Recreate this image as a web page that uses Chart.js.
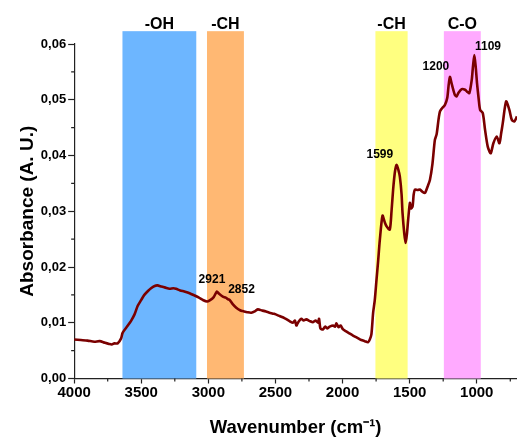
<!DOCTYPE html>
<html>
<head>
<meta charset="utf-8">
<title>FTIR spectrum</title>
<script src="https://cdn.jsdelivr.net/npm/chart.js@4.4.1/dist/chart.umd.min.js"></script>
<style>
  html, body { margin: 0; padding: 0; background: #fff; }
  #wrap { width: 517px; height: 437px; }
</style>
</head>
<body>
<div id="wrap"><canvas id="chart" width="517" height="437"></canvas></div>
<script>
"use strict";

// ── Data ──────────────────────────────────────────────────────────────────────
const wavenumber = [
  4000, 3950, 3900, 3850, 3810, 3770, 3740, 3720, 3700, 3676, 3650, 3639, 3600, 3577, 3550,
  3527, 3500, 3477, 3450, 3427, 3400, 3380, 3350, 3320, 3290, 3260, 3241, 3210, 3179, 3140,
  3104, 3070, 3042, 3010, 2990, 2960, 2937, 2920, 2892, 2870, 2852, 2842, 2820, 2792, 2760,
  2743, 2710, 2680, 2650, 2631, 2600, 2570, 2544, 2510, 2469, 2430, 2395, 2370, 2355, 2344,
  2330, 2307, 2290, 2270, 2245, 2220, 2200, 2183, 2175, 2165, 2146, 2130, 2115, 2096, 2070,
  2056, 2046, 2030, 2015, 1996, 1970, 1950, 1922, 1890, 1860, 1835, 1810, 1797, 1785, 1772,
  1760, 1747, 1735, 1722, 1702, 1685, 1672, 1648, 1635, 1623, 1610, 1598, 1585, 1573, 1560,
  1553, 1540, 1530, 1520, 1511, 1498, 1490, 1478, 1470, 1461, 1440, 1424, 1405, 1386, 1365,
  1349, 1330, 1312, 1299, 1274, 1237, 1220, 1210, 1200, 1188, 1175, 1162, 1150, 1137, 1112,
  1087, 1070, 1055, 1037, 1028, 1018, 1008, 998, 985, 975, 955, 938, 918, 896, 876,
  851, 831, 818, 806, 781, 757, 739, 720, 700
];
const absorbance = [
  0.0070, 0.0069, 0.0068, 0.0066, 0.0067, 0.0064, 0.0062, 0.0061, 0.0063, 0.0063, 0.0072, 0.0082, 0.0095, 0.0103, 0.0115,
  0.0130, 0.0141, 0.0150, 0.0157, 0.0162, 0.0166, 0.0167, 0.0165, 0.0163, 0.0161, 0.0162, 0.0161, 0.0158, 0.0156, 0.0153,
  0.0149, 0.0145, 0.0141, 0.0138, 0.0140, 0.0146, 0.0156, 0.0152, 0.0147, 0.0145, 0.0142, 0.0141, 0.0134, 0.0127, 0.0122,
  0.0121, 0.0119, 0.0118, 0.0121, 0.0124, 0.0122, 0.0120, 0.0118, 0.0116, 0.0112, 0.0108, 0.0103, 0.0100, 0.0104, 0.0095,
  0.0101, 0.0107, 0.0104, 0.0106, 0.0103, 0.0101, 0.0104, 0.0100, 0.0107, 0.0090, 0.0088, 0.0093, 0.0090, 0.0093, 0.0095,
  0.0093, 0.0099, 0.0092, 0.0095, 0.0088, 0.0084, 0.0081, 0.0077, 0.0073, 0.0069, 0.0067, 0.0065, 0.0070, 0.0079, 0.0118,
  0.0140, 0.0177, 0.0210, 0.0249, 0.0292, 0.0280, 0.0273, 0.0267, 0.0300, 0.0339, 0.0370, 0.0383, 0.0375, 0.0362, 0.0330,
  0.0297, 0.0260, 0.0243, 0.0260, 0.0285, 0.0315, 0.0305, 0.0309, 0.0330, 0.0339, 0.0338, 0.0339, 0.0335, 0.0333, 0.0345,
  0.0356, 0.0385, 0.0428, 0.0438, 0.0479, 0.0491, 0.0503, 0.0525, 0.0541, 0.0530, 0.0518, 0.0508, 0.0506, 0.0512, 0.0519,
  0.0518, 0.0514, 0.0512, 0.0536, 0.0560, 0.0580, 0.0560, 0.0530, 0.0500, 0.0482, 0.0476, 0.0446, 0.0416, 0.0404, 0.0422,
  0.0434, 0.0422, 0.0440, 0.0458, 0.0497, 0.0482, 0.0464, 0.0461, 0.0470
];

// Axis ticks (major ones carry a label, the others are short minor marks)
const xTicks = [4000, 3750, 3500, 3250, 3000, 2750, 2500, 2250, 2000, 1750, 1500, 1250, 1000, 750];
const yTicks = [0, 0.005, 0.01, 0.015, 0.02, 0.025, 0.03, 0.035, 0.04, 0.045, 0.05, 0.055, 0.06];

// Functional-group bands
const bandLabels = ["-OH", "-CH", "-CH", "C-O"];
const bandFrom   = [3640, 3010, 1755, 1245];
const bandTo     = [3090, 2735, 1515, 970];
const bandColors = ["#6db6ff", "#ffb873", "#ffff80", "#ffaaff"];
const bandTop    = 0.0623;

// Peak annotations
const peakLabels = ["2921", "2852", "1599", "1200", "1109"];
const peakX      = [2973, 2753, 1722, 1304, 916];
const peakY      = [0.0177, 0.0160, 0.0401, 0.0559, 0.0596];

const FONT = "'Liberation Sans', Arial, sans-serif";

// ── Helpers ───────────────────────────────────────────────────────────────────
const isMajorY = v => Math.round(v * 1000) % 10 === 0;
const isMajorX = v => Math.round(v) % 500 === 0;

// ── Plugins ───────────────────────────────────────────────────────────────────
const bandsPlugin = {
  id: "bands",
  beforeDatasetsDraw(chart) {
    const { ctx, scales: { x, y } } = chart;
    ctx.save();
    const top = y.getPixelForValue(bandTop);
    const bot = y.getPixelForValue(0);
    bandLabels.forEach((lab, i) => {
      const x1 = x.getPixelForValue(bandFrom[i]);
      const x2 = x.getPixelForValue(bandTo[i]);
      ctx.fillStyle = bandColors[i];
      ctx.fillRect(x1, top, x2 - x1, bot - top);
      ctx.fillStyle = "#000";
      ctx.font = `bold 16px ${FONT}`;
      ctx.textAlign = "center";
      ctx.textBaseline = "alphabetic";
      ctx.fillText(lab, (x1 + x2) / 2, top - 2);
    });
    ctx.restore();
  },
};

const peaksPlugin = {
  id: "peaks",
  afterDatasetsDraw(chart) {
    const { ctx, scales: { x, y } } = chart;
    ctx.save();
    ctx.fillStyle = "#000";
    ctx.font = `bold 12px ${FONT}`;
    ctx.textAlign = "center";
    ctx.textBaseline = "middle";
    peakLabels.forEach((lab, i) => {
      ctx.fillText(lab, x.getPixelForValue(peakX[i]), y.getPixelForValue(peakY[i]));
    });
    ctx.restore();
  },
};

// short minor ticks (Chart.js draws the long major ones)
const minorTicksPlugin = {
  id: "minorTicks",
  afterDraw(chart) {
    const { ctx, scales: { x, y } } = chart;
    ctx.save();
    ctx.strokeStyle = "#222";
    ctx.lineWidth = 1.2;
    ctx.beginPath();
    x.ticks.forEach(t => {
      if (isMajorX(t.value)) return;
      const px = x.getPixelForValue(t.value);
      ctx.moveTo(px, x.top);
      ctx.lineTo(px, x.top + 3);
    });
    y.ticks.forEach(t => {
      if (isMajorY(t.value)) return;
      const py = y.getPixelForValue(t.value);
      ctx.moveTo(y.right, py);
      ctx.lineTo(y.right - 3, py);
    });
    ctx.stroke();
    ctx.restore();
  },
};

// ── Chart ─────────────────────────────────────────────────────────────────────
const points = wavenumber.map((w, i) => ({ x: w, y: absorbance[i] }));

new Chart(document.getElementById("chart"), {
  type: "line",
  data: {
    datasets: [{
      data:        points,
      borderColor: "#7a0000",
      borderWidth: 2.6,
      pointRadius: 0,
      tension:     0.25,
      fill:        false,
    }],
  },
  options: {
    responsive: false,
    animation:  false,
    layout: { padding: { top: 44, left: 17, right: 0, bottom: 0 } },
    plugins: {
      legend:  { display: false },
      tooltip: { enabled: false },
    },
    scales: {
      x: {
        type:    "linear",
        reverse: true,
        min:     700,
        max:     4000,
        afterBuildTicks: axis => { axis.ticks = xTicks.map(v => ({ value: v })); },
        border:  { color: "#222", width: 1.2 },
        grid: {
          drawOnChartArea: false,
          tickLength: 5,
          tickWidth:  1.2,
          tickColor:  c => isMajorX(c.tick.value) ? "#222" : "rgba(0,0,0,0)",
        },
        ticks: {
          autoSkip:    false,
          maxRotation: 0,
          padding:     0,
          color:       "#000",
          font:        { family: FONT, size: 15, weight: "bold" },
          callback:    v => isMajorX(v) ? String(v) : "",
        },
        title: {
          display: true,
          text:    "Wavenumber (cm⁻¹)",
          color:   "#000",
          font:    { family: FONT, size: 18.5, weight: "bold", lineHeight: 1 },
          padding: { top: 17, bottom: 0 },
        },
      },
      y: {
        min:    0,
        max:    0.06,
        afterBuildTicks: axis => { axis.ticks = yTicks.map(v => ({ value: v })); },
        border: { color: "#222", width: 1.2 },
        grid: {
          drawOnChartArea: false,
          tickLength: 6,
          tickWidth:  1.2,
          tickColor:  c => isMajorY(c.tick.value) ? "#222" : "rgba(0,0,0,0)",
        },
        ticks: {
          autoSkip: false,
          padding:  2,
          color:    "#000",
          font:     { family: FONT, size: 13, weight: "bold" },
          callback: v => isMajorY(v) ? v.toFixed(2).replace(".", ",") : "",
        },
        title: {
          display: true,
          text:    "Absorbance (A. U.)",
          color:   "#000",
          font:    { family: FONT, size: 19, weight: "bold", lineHeight: 1.15 },
          padding: { top: 0, bottom: 0 },
        },
      },
    },
  },
  plugins: [bandsPlugin, peaksPlugin, minorTicksPlugin],
});
</script>
</body>
</html>
